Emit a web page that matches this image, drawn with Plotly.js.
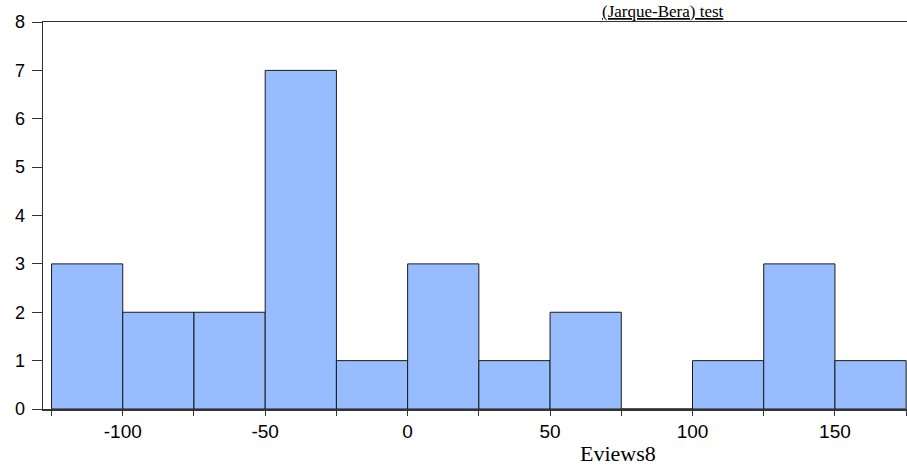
<!DOCTYPE html>
<html>
<head>
<meta charset="utf-8">
<script src="https://cdn.plot.ly/plotly-3.0.1.min.js"></script>
<style>html,body{margin:0;padding:0;background:#fff;}#chart{width:907px;height:466px;}</style>
</head>
<body>
<div id="chart"></div>
<script>
// Bin centers (width 25) and counts
const binCenters = [-112.5, -87.5, -62.5, -37.5, -12.5, 12.5, 37.5, 62.5, 87.5, 112.5, 137.5, 162.5];
const binCounts  = [3, 2, 2, 7, 1, 3, 1, 2, 0, 1, 3, 1];
const binWidth = 25;
const xTickVals = [-125, -100, -75, -50, -25, 0, 25, 50, 75, 100, 125, 150, 175];
const xTickText = ['', '-100', '', '-50', '', '0', '', '50', '', '100', '', '150', ''];
const yTickVals = [0, 1, 2, 3, 4, 5, 6, 7, 8];
const titleText = '(Jarque-Bera) test';
const footerText = 'Eviews8';

const trace = {
  type: 'bar',
  x: binCenters,
  y: binCounts,
  width: binCenters.map(() => binWidth),
  marker: {color: '#98BDFF', line: {color: '#1a1a1a', width: 1}},
  hoverinfo: 'x+y'
};

const layout = {
  width: 907, height: 466,
  margin: {l: 43, r: 0, t: 22, b: 57},
  paper_bgcolor: '#ffffff', plot_bgcolor: '#ffffff',
  showlegend: false,
  bargap: 0,
  xaxis: {
    range: [-128, 175.3],
    tickmode: 'array', tickvals: xTickVals, ticktext: xTickText,
    ticks: 'outside', ticklen: 5, tickcolor: '#333', tickwidth: 1,
    showline: true, linecolor: '#333', linewidth: 1.5, mirror: true,
    showgrid: false, zeroline: false,
    tickfont: {family: 'Arial, "Liberation Sans", sans-serif', size: 19, color: '#000'}
  },
  yaxis: {
    range: [0, 8],
    tickmode: 'array', tickvals: yTickVals,
    ticks: 'outside', ticklen: 10, tickcolor: '#333', tickwidth: 1,
    ticklabelstandoff: 3,
    showline: true, linecolor: '#333', linewidth: 1.5,
    showgrid: false, zeroline: false,
    tickfont: {family: 'Arial, "Liberation Sans", sans-serif', size: 18, color: '#000'}
  },
  annotations: [
    {
      text: titleText, showarrow: false, xref: 'paper', yref: 'paper',
      x: 0.7176, y: 1.0, xanchor: 'center', yanchor: 'bottom', borderpad: 0, yshift: 0,
      font: {family: '"Times New Roman", "Liberation Serif", serif', size: 17, color: '#000', lineposition: 'under'}
    },
    {
      text: footerText, showarrow: false, xref: 'paper', yref: 'paper',
      x: 0.6655, y: -0.114, xanchor: 'center', yanchor: 'middle',
      font: {family: '"Times New Roman", "Liberation Serif", serif', size: 22, color: '#000'}
    }
  ]
};

Plotly.newPlot('chart', [trace], layout, {displayModeBar: false, staticPlot: true});
</script>
</body>
</html>
